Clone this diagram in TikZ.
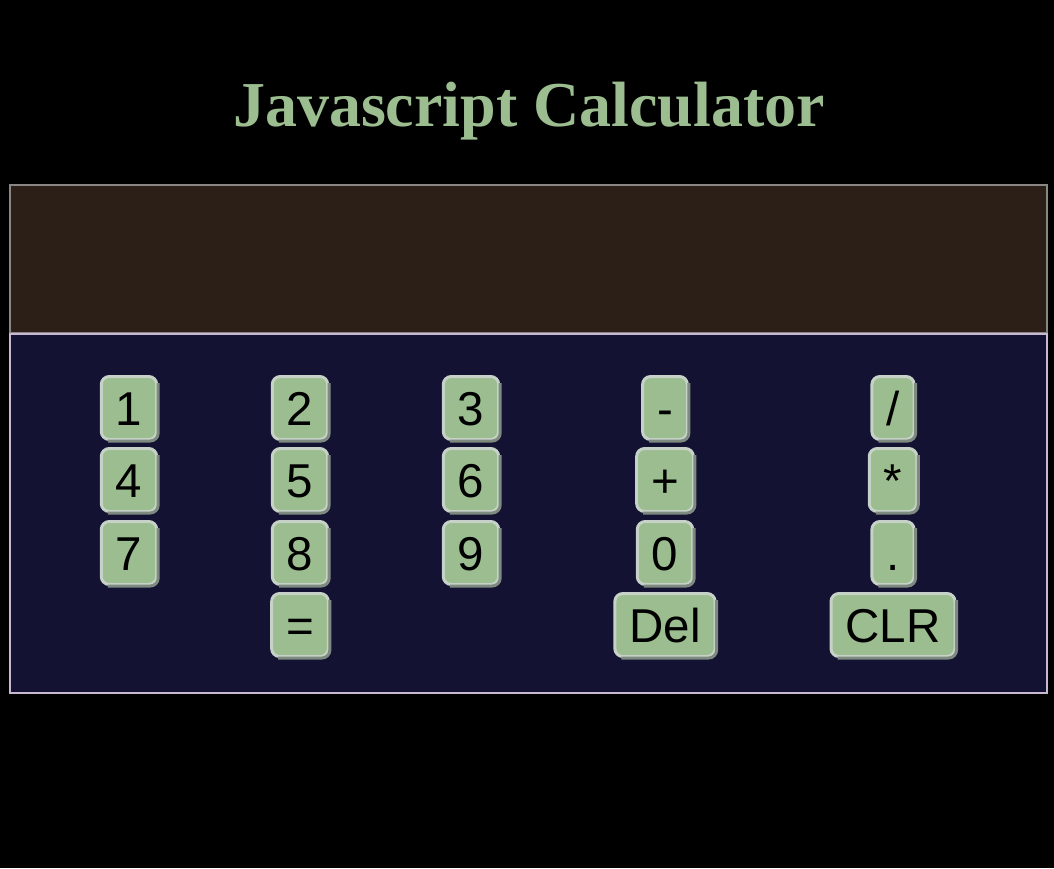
\documentclass[tikz,border=0pt]{standalone}
\usepackage{fontspec}
\setmainfont{Liberation Serif}
\newfontfamily\keyfont{Liberation Sans}
\definecolor{keygreen}{HTML}{9BBD8F}
\definecolor{keylight}{HTML}{C6D1C8}
\definecolor{keydark}{HTML}{7E8A80}
\definecolor{dispfill}{HTML}{2B1F17}
\definecolor{displine}{HTML}{8A8686}
\definecolor{padfill}{HTML}{141232}
\definecolor{padline}{HTML}{C9B8D2}
\tikzset{%
    key/.style={%
        fill=keygreen, draw=keylight, line width=3pt, rounded corners=8pt,
        minimum height=63pt, inner xsep=14.5pt, inner ysep=0pt,
        text height=34pt, text depth=0pt, text=black,
        font=\keyfont\fontsize{47.5}{52}\selectfont,
        append after command={%
            [rounded corners=8pt]
            ([yshift=-8pt]\tikzlastnode.north east)
            edge[keydark, line width=3pt, to path={-- (\tikzlastnode.south east) -- ([xshift=8pt]\tikzlastnode.south west)}] ()
        }
    }
}
\begin{document}
\begin{tikzpicture}[x=1pt,y=-1pt]
    \fill[black] (0,0) rectangle (1054,868);
    \useasboundingbox (0,0) rectangle (1054,868);
    \node[anchor=base, text=keygreen, font=\bfseries\fontsize{64}{72}\selectfont] (title) at (529,126) {Javascript Calculator};
    \draw[displine, line width=2pt, fill=dispfill] (10,185) rectangle (1047,332.5);
    \draw[padline, line width=2pt, fill=padfill] (10,334.3) rectangle (1047,692.5);
    \foreach \lbl/\name/\x/\y in {1/one/129/408, 4/four/129/480, 7/seven/129/553,
        2/two/300/408, 5/five/300/480, 8/eight/300/553, =/equals/300/625,
        3/three/471/408, 6/six/471/480, 9/nine/471/553,
        -/minus/665/408, +/plus/665/480, 0/zero/665/553, Del/del/665/625,
        {/}/slash/893/408, */times/893/480, ./dot/893/553, CLR/clr/893/625}
    {
    \node[key] (\name) at (\x,\y) {\lbl};
    }
\end{tikzpicture}
\end{document}
